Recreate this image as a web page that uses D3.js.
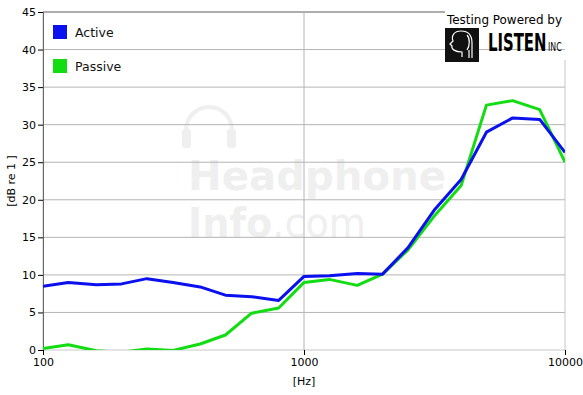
<!DOCTYPE html>
<html>
<head>
<meta charset="utf-8">
<script src="https://cdn.jsdelivr.net/npm/d3@7"></script>
<style>
  body { margin: 0; background: #fff; }
  text { font-family: "DejaVu Sans", Verdana, sans-serif; }
</style>
</head>
<body>
<div id="chart"></div>
<script>
// 1/3 octave bands
const freqs = [100, 125, 160, 200, 250, 315, 400, 500, 630, 800, 1000, 1250, 1600, 2000, 2500, 3150, 4000, 5000, 6300, 8000, 10000];
const active = [8.5, 9.0, 8.7, 8.8, 9.5, 9.0, 8.4, 7.3, 7.1, 6.6, 9.8, 9.9, 10.2, 10.1, 13.6, 18.6, 22.7, 29.0, 30.9, 30.7, 26.3];
const passive = [0.2, 0.7, -0.1, -0.3, 0.15, -0.05, 0.8, 2.0, 4.9, 5.6, 9.0, 9.4, 8.6, 10.1, 13.3, 17.8, 21.9, 32.6, 33.2, 32.0, 25.0];
const yTicks = [0, 5, 10, 15, 20, 25, 30, 35, 40, 45];
const xTicks = [100, 1000, 10000];
const series = [
  { name: "Active", values: active, color: "#0a10ee" },
  { name: "Passive", values: passive, color: "#12dc12" }
];

const width = 583, height = 395;
const margin = { top: 12, right: 18, bottom: 45, left: 43 };
const w = width - margin.left - margin.right;
const h = height - margin.top - margin.bottom;

const svg = d3.select("#chart").append("svg")
    .attr("width", width)
    .attr("height", height);

const g = svg.append("g")
    .attr("transform", "translate(" + margin.left + "," + margin.top + ")");

const x = d3.scaleLog().domain([100, 10000]).range([0, w]);
const y = d3.scaleLinear().domain([0, 45]).range([h, 0]);

// watermark
const wm = g.append("g").attr("fill", "#efefef");
wm.append("path")
    .attr("d", "M143,132 L143,118 A23,23 0 0 1 189,118 L189,132")
    .attr("fill", "none").attr("stroke", "#efefef").attr("stroke-width", 4);
wm.append("rect").attr("x", 139).attr("y", 117).attr("width", 9).attr("height", 19).attr("rx", 3);
wm.append("rect").attr("x", 184).attr("y", 117).attr("width", 9).attr("height", 19).attr("rx", 3);
wm.append("text").attr("x", 145).attr("y", 178)
    .attr("font-family", "Liberation Sans, Arial, sans-serif")
    .attr("font-weight", "bold").attr("font-size", 40)
    .attr("textLength", 258).attr("lengthAdjust", "spacingAndGlyphs")
    .text("Headphone");
const wm2 = wm.append("text").attr("x", 145).attr("y", 225)
    .attr("font-family", "Liberation Sans, Arial, sans-serif")
    .attr("font-size", 40)
    .attr("textLength", 178).attr("lengthAdjust", "spacingAndGlyphs");
wm2.append("tspan").attr("font-weight", "bold").text("Info");
wm2.append("tspan").attr("font-weight", "normal").text(".com");

// frame
g.append("rect")
    .attr("width", w).attr("height", h)
    .attr("fill", "none").attr("stroke", "#c8c8c8");
g.append("line").attr("x1", 0).attr("x2", w).attr("y1", 0).attr("y2", 0)
    .attr("stroke", "#777");

// logo background hides the frame corner
g.append("rect")
    .attr("x", 445 - margin.left).attr("y", -margin.top)
    .attr("width", 140).attr("height", 60)
    .attr("fill", "#fff");

// grid
g.append("g").selectAll("line")
    .data(yTicks.filter(d => d > 0 && d < 45))
    .join("line")
    .attr("x1", 0).attr("x2", w)
    .attr("y1", d => y(d)).attr("y2", d => y(d))
    .attr("stroke", "#b4b4b4");
g.append("line")
    .attr("x1", x(1000)).attr("x2", x(1000))
    .attr("y1", 0).attr("y2", h)
    .attr("stroke", "#b4b4b4");

// axes
const yAxis = d3.axisLeft(y).tickValues(yTicks).tickSize(5).tickPadding(2);
const xAxis = d3.axisBottom(x).tickValues(xTicks).tickFormat(d3.format("d")).tickSize(5).tickPadding(3);

g.append("g").call(yAxis)
    .call(a => a.select(".domain").attr("stroke", "#666"))
    .call(a => a.selectAll(".tick line").attr("stroke", "#000"))
    .call(a => a.selectAll("text").attr("font-size", 11).attr("fill", "#000"));

g.append("g").attr("transform", "translate(0," + h + ")").call(xAxis)
    .call(a => a.select(".domain").remove())
    .call(a => a.selectAll(".tick line").attr("stroke", "#000"))
    .call(a => a.selectAll("text").attr("font-size", 11).attr("fill", "#000"));

g.append("text")
    .attr("x", x(1000)).attr("y", h + 35)
    .attr("text-anchor", "middle").attr("font-size", 11)
    .text("[Hz]");
g.append("text")
    .attr("transform", "translate(" + (-28) + "," + (h / 2) + ") rotate(-90)")
    .attr("text-anchor", "middle").attr("font-size", 11)
    .text("[dB re 1 ]");

// lines
g.append("clipPath").attr("id", "clip")
    .append("rect").attr("width", w).attr("height", h);

const line = d3.line()
    .x((d, i) => x(freqs[i]))
    .y(d => y(d));

g.append("g").attr("clip-path", "url(#clip)")
  .selectAll("path")
  .data(series.slice().reverse())
  .join("path")
    .attr("d", d => line(d.values))
    .attr("fill", "none")
    .attr("stroke", d => d.color)
    .attr("stroke-width", 3)
    .attr("stroke-linejoin", "round");

// legend
const leg = g.append("g").attr("transform", "translate(10,13)");
series.forEach((s, i) => {
  leg.append("rect").attr("x", 0).attr("y", i * 34)
      .attr("width", 14).attr("height", 14).attr("fill", s.color);
  leg.append("text").attr("x", 22).attr("y", i * 34 + 12)
      .attr("font-size", 12.5).attr("fill", "#111")
      .text(s.name);
});

// logo
const logo = svg.append("g");
logo.append("text")
    .attr("x", 447).attr("y", 24)
    .attr("font-size", 13)
    .attr("font-family", "Open Sans, sans-serif")
    .attr("textLength", 115).attr("lengthAdjust", "spacingAndGlyphs")
    .text("Testing Powered by");
logo.append("rect")
    .attr("x", 445).attr("y", 28).attr("width", 34).attr("height", 34)
    .attr("fill", "#111");
logo.append("path")
    .attr("d", "M462,57 L462,52 C455,52 451,49 452,46 L450,44 L453,41 C451,36 454,31 461,31 C469,31 472,36 472,43 L472,58")
    .attr("fill", "none").attr("stroke", "#fff").attr("stroke-width", 1.2);
logo.append("path")
    .attr("d", "M467,35 C470,38 470,46 467,50 M469,50 L469,58")
    .attr("fill", "none").attr("stroke", "#fff").attr("stroke-width", 1.2);
logo.append("text")
    .attr("transform", "translate(488,51) scale(0.62,1)")
    .attr("font-family", "DejaVu Sans Condensed, sans-serif")
    .attr("font-weight", "bold").attr("font-size", 24)
    .text("LISTEN");
logo.append("text")
    .attr("transform", "translate(548,51) scale(0.6,1)")
    .attr("font-family", "DejaVu Sans Condensed, sans-serif")
    .attr("font-size", 13)
    .text("INC");
</script>
</body>
</html>
